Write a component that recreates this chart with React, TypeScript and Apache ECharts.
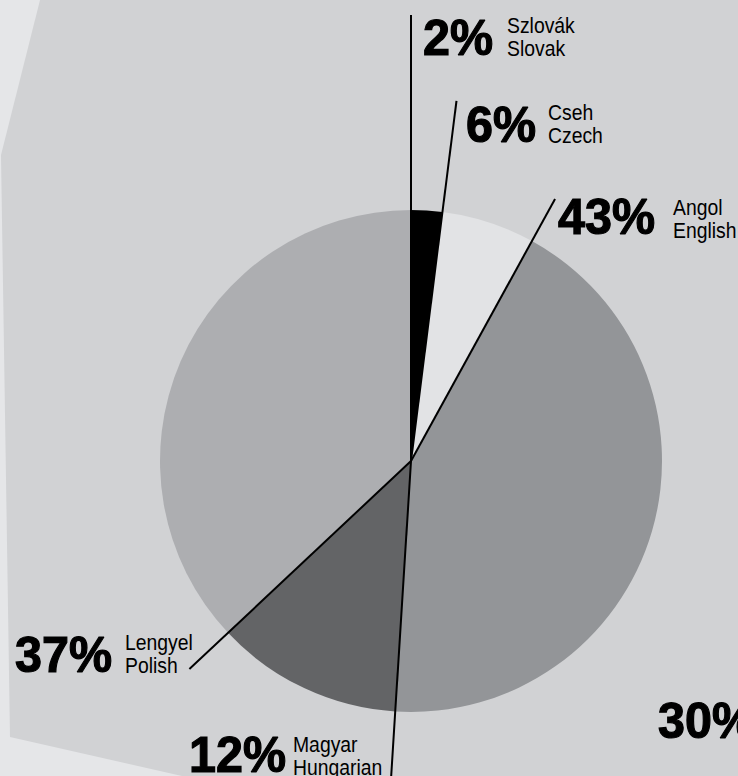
import React, { useEffect, useRef } from "react";
import * as echarts from "echarts";

// ---- data ----
const namesHu = ["Szlovák", "Cseh", "Angol", "Magyar", "Lengyel"];
const namesEn = ["Slovak", "Czech", "English", "Hungarian", "Polish"];
const shares = [2, 6, 43, 12, 37];
const sliceColors = ["#000000", "#e2e3e5", "#939598", "#636466", "#adaeb1"];
const strayLabel = "30%";

// ---- layout ----
const W = 738;
const H = 776;
const CX = 411;
const CY = 461;
const R = 251;
const leaderLen = [446, 363, 299, 332, 304];
// [big label left x, baseline y, small label left x, first small baseline]
const labelLayout = [
  [423, 55, 507, 33],
  [466, 142, 548, 120],
  [558, 234, 673, 215],
  [189, 772, 293, 752],
  [15, 672, 125, 650],
];
const BIG = 50;
const SMALL = 22;
const SMALL_LH = 23;
const BG_OUTER = "#e5e6e8";
const BG_INNER = "#d1d2d4";
const bgPolygon = [
  [40, 0],
  [W, 0],
  [W, H],
  [182, H],
  [10, 737],
  [1, 155],
];

function midY(baseline: number, size: number) {
  return baseline - 0.35 * size;
}

export default function App() {
  const ref = useRef<HTMLDivElement>(null);
  useEffect(() => {
    if (!ref.current) return;
    const chart = echarts.init(ref.current, undefined, { renderer: "svg" });
    const total = shares.reduce((a, b) => a + b, 0);
    const graphics: any[] = [];
    graphics.push({
      type: "polygon",
      z: -10,
      silent: true,
      shape: { points: bgPolygon },
      style: { fill: BG_INNER },
    });
    let cum = 0;
    shares.forEach((v, i) => {
      const a = (cum / total) * Math.PI * 2;
      cum += v;
      const L = leaderLen[i];
      graphics.push({
        type: "line",
        z: 100,
        silent: true,
        shape: {
          x1: CX,
          y1: CY,
          x2: CX + L * Math.sin(a),
          y2: CY - L * Math.cos(a),
        },
        style: { stroke: "#000", lineWidth: 2 },
      });
      const [bx, by, sx, sy] = labelLayout[i];
      graphics.push({
        type: "text",
        z: 100,
        silent: true,
        x: bx,
        y: midY(by, BIG),
        scaleX: 0.97,
        style: {
          text: `${v}%`,
          x: 0,
          y: 0,
          fill: "#000",
          stroke: "#000",
          lineWidth: 1.2,
          font: `bold ${BIG}px "Liberation Sans", Arial, sans-serif`,
          align: "left",
          verticalAlign: "middle",
        },
      });
      [namesHu[i], namesEn[i]].forEach((t, k) => {
        graphics.push({
          type: "text",
          z: 100,
          silent: true,
          x: sx,
          y: midY(sy + k * SMALL_LH, SMALL),
          scaleX: 0.88,
          style: {
            text: t,
            x: 0,
            y: 0,
            fill: "#000",
            font: `${SMALL}px "Liberation Sans", Arial, sans-serif`,
            align: "left",
            verticalAlign: "middle",
          },
        });
      });
    });
    graphics.push({
      type: "text",
      z: 100,
      silent: true,
      x: 658,
      y: midY(738, BIG),
      scaleX: 0.97,
      style: {
        text: strayLabel,
        x: 0,
        y: 0,
        fill: "#000",
        stroke: "#000",
        lineWidth: 1.2,
        font: `bold ${BIG}px "Liberation Sans", Arial, sans-serif`,
        align: "left",
        verticalAlign: "middle",
      },
    });

    chart.setOption({
      animation: false,
      backgroundColor: BG_OUTER,
      graphic: { elements: graphics },
      series: [
        {
          type: "pie",
          z: 2,
          silent: true,
          center: [CX, CY],
          radius: [0, R],
          startAngle: 90,
          clockwise: true,
          label: { show: false },
          labelLine: { show: false },
          itemStyle: { borderWidth: 0 },
          emphasis: { disabled: true },
          data: shares.map((v, i) => ({
            value: v,
            name: namesEn[i],
            itemStyle: { color: sliceColors[i] },
          })),
        },
      ],
    });
    return () => chart.dispose();
  }, []);
  return (
    <div
      ref={ref}
      style={{ position: "fixed", left: 0, top: 0, width: W, height: H }}
    />
  );
}
